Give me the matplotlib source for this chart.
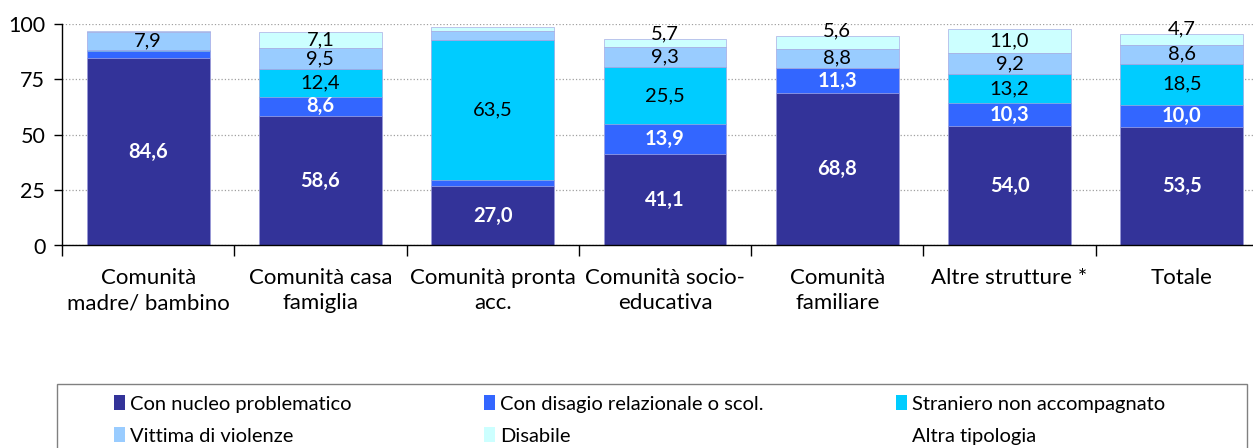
import matplotlib.pyplot as plt
from matplotlib.patches import Patch, Rectangle
import numpy as np

plt.rcParams['font.family'] = ['Lato', 'DejaVu Sans']

categorie = ['Comunità\nmadre/ bambino', 'Comunità casa\nfamiglia', 'Comunità pronta\nacc.',
             'Comunità socio-\neducativa', 'Comunità\nfamiliare', 'Altre strutture *', 'Totale']

serie = ['Con nucleo problematico', 'Con disagio relazionale o scol.', 'Straniero non accompagnato',
         'Vittima di violenze', 'Disabile', 'Altra tipologia']

nucleo = [84.6, 58.6, 27.0, 41.1, 68.8, 54.0, 53.5]
disagio = [3.4, 8.6, 2.5, 13.9, 11.3, 10.3, 10.0]
straniero = [0.3, 12.4, 63.5, 25.5, 0.0, 13.2, 18.5]
vittima = [7.9, 9.5, 4.0, 9.3, 8.8, 9.2, 8.6]
disabile = [0.6, 7.1, 1.7, 3.5, 5.7, 11.0, 4.7]
altra = [3.2, 3.8, 1.3, 6.7, 5.4, 2.3, 4.7]

# etichette mostrate (None = nessuna etichetta)
lab_nucleo = ['84,6', '58,6', '27,0', '41,1', '68,8', '54,0', '53,5']
lab_disagio = [None, '8,6', None, '13,9', '11,3', '10,3', '10,0']
lab_straniero = [None, '12,4', '63,5', '25,5', None, '13,2', '18,5']
lab_vittima = ['7,9', '9,5', None, '9,3', '8,8', '9,2', '8,6']
lab_disabile = [None, '7,1', None, '5,7', '5,6', '11,0', '4,7']
disabile_fuori = [False, False, False, True, True, False, True]

colori = ['#333399', '#3366FF', '#00CCFF', '#99CCFF', '#CCFFFF', 'none']


def grafico():
    fig = plt.figure(figsize=(12.53, 4.48), dpi=100)
    ax = fig.add_axes([62 / 1253, 1 - 245.5 / 448, 1206 / 1253, 221.5 / 448])

    x = np.arange(len(categorie))
    valori = [nucleo, disagio, straniero, vittima, disabile, altra]
    etichette = [lab_nucleo, lab_disagio, lab_straniero, lab_vittima, lab_disabile]
    bottom = np.zeros(len(categorie))
    for i, v in enumerate(valori):
        v = np.array(v)
        ax.bar(x, v, bottom=bottom, width=0.713, color=colori[i],
               edgecolor='#9999dd' if i < 5 else 'none', linewidth=0.4, zorder=2)
        if i < 5:
            for j in range(len(x)):
                t = etichette[i][j]
                if t is None:
                    continue
                bianco = i < 2
                if i == 4 and disabile_fuori[j]:
                    y = bottom[j] + v[j] + 2.4
                else:
                    y = bottom[j] + v[j] / 2
                ax.text(x[j], y, t, ha='center', va='center', fontsize=14.5,
                        color='white' if bianco else 'black',
                        fontweight='bold' if bianco else 'normal', zorder=3)
        bottom += v

    ax.set_ylim(0, 100)
    ax.set_xlim(-0.5, len(categorie) - 0.5)
    ax.set_yticks([0, 25, 50, 75, 100])
    ax.yaxis.grid(True, linestyle=':', color='#a0a0a0', linewidth=0.9, zorder=0)
    ax.set_axisbelow(True)
    ax.tick_params(axis='y', labelsize=15.5, length=6, width=1, pad=6)

    ax.set_xticks(x)
    ax.set_xticklabels(categorie, fontsize=16, linespacing=1.35)
    ax.set_xticks(np.arange(len(categorie) + 1) - 0.5, minor=True)
    ax.tick_params(axis='x', which='major', length=0, pad=16)
    ax.tick_params(axis='x', which='minor', length=8, width=1)

    for s in ['top', 'right']:
        ax.spines[s].set_visible(False)
    ax.spines['left'].set_linewidth(1)
    ax.spines['bottom'].set_linewidth(1)

    # cornice della legenda
    fig.patches.append(Rectangle((57 / 1253, -0.01), 1190 / 1253, 1 - 384 / 448 + 0.01,
                                 transform=fig.transFigure, fill=False,
                                 edgecolor='#808080', linewidth=1))

    # ordine per riempire le righe (matplotlib riempie per colonne)
    ordine = [0, 3, 1, 4, 2, 5]
    handles = [Patch(facecolor=colori[k], edgecolor='none') for k in ordine]
    labels = [serie[k] for k in ordine]
    fig.legend(handles, labels, ncol=3, loc='upper left',
               bbox_to_anchor=(114 / 1253, 1 - 395 / 448, 1051 / 1253, 0.0),
               mode='expand', fontsize=14.5, frameon=False,
               handlelength=0.55, handleheight=0.8,
               handletextpad=0.25, borderaxespad=0, labelspacing=0.7,
               borderpad=0)

    fig.savefig('out.png', dpi=100)


def main():
    grafico()


if __name__ == '__main__':
    main()
